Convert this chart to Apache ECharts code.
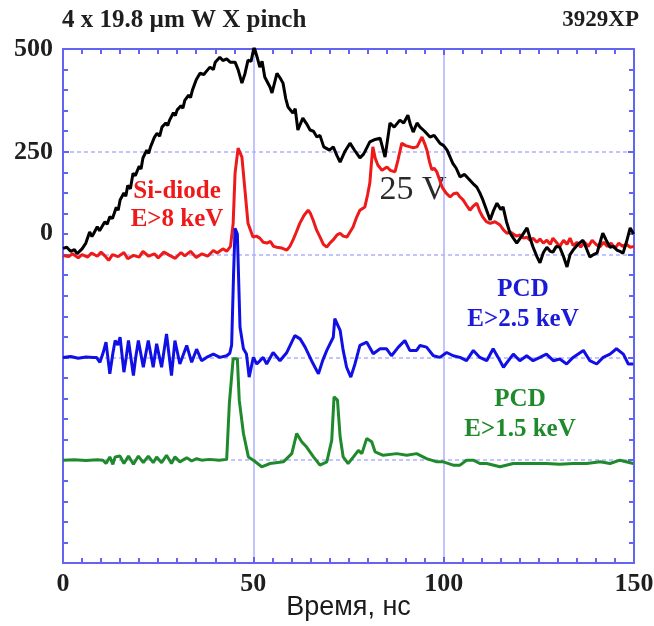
<!DOCTYPE html>
<html>
<head>
<meta charset="utf-8">
<script src="https://cdn.jsdelivr.net/npm/echarts@6/dist/echarts.min.js"></script>
<style>
  html, body { margin: 0; padding: 0; background: #fff; }
  #chart { width: 654px; height: 626px; }
</style>
</head>
<body>
<div id="chart"></div>
<script>
// Time axis (ns) and signal axis (arb. units); traces are stacked with baseline offsets.
const xLabelValues = [0, 50, 100, 150];
const yLabelValues = [500, 250, 0];

// Baseline offset of each stacked trace
const blackBaseline = 0;
const redBaseline = 0;
const blueBaseline = -250;
const greenBaseline = -500;

// Voltage trace, 25 V per division: [time ns, value]
const blackTrace = [
  [0,15],[1,18],[2,8],[3,12],[3.7,2],[5,14],[6,28],[7,55],[7.6,44],[8,50],[9,68],[9.6,58],[10,62],[11,80],[11.6,74],[12.3,92],[13,88],
  [14,115],[14.5,108],[15,133],[16,150],[16.5,142],[17,168],[17.7,160],[18.4,198],[19,192],[20,215],[20.5,208],[21,235],[22,254],[22.5,246],[23,262],[24,285],
  [24.7,295],[25.4,288],[26,310],[27,320],[27.5,314],[28,327],[29,345],[29.5,338],[30,352],[31,362],[31.5,356],[32,375],[33,388],[33.5,382],[34,400],[35,425],
  [36,441],[37,438],[37.6,445],[38.6,456],[39.5,450],[40,468],[41.2,480],[42,472],[43,476],[43.9,468],[45.2,468],
  [46,450],[47,417],[47.8,440],[48.6,473],[49.4,470],[50.2,505],[51,480],[51.7,456],[52.3,470],[53,432],
  [54.4,407],[54.9,393],[56.2,441],[57,430],[57.8,417],[58.5,380],[59.1,359],[60.4,344],[61,355],[61.7,303],
  [63,332],[64,318],[64.9,303],[65.8,300],[66.7,286],[67.5,290],[68.5,262],[70,254],[71,262],[72,240],
  [72.8,225],[74,250],[75.4,271],[76.5,255],[78,235],[79,245],[80.6,274],[82,280],[83.3,283],[84.6,237],
  [85.9,320],[87,310],[88.5,327],[89.5,320],[90.6,339],[91.3,315],[92,298],[93,320],[93.8,310],[95,300],
  [96.4,286],[97.5,290],[99,271],[100,265],[100.9,254],[102.4,222],[103.3,210],[104.3,189],[105.5,195],
  [106.9,181],[108,170],[108.7,164],[109.5,150],[110.3,133],[111,115],[112.2,84],[113,105],[114,125],
  [115,110],[115.6,116],[116.5,80],[117.4,53],[118.3,40],[119.2,28],[120.5,45],[121.9,65],[122.7,40],
  [123.5,18],[124.5,-5],[125.3,-20],[126.2,5],[127.1,18],[128,8],[128.7,6],[129.6,20],[130.5,18],
  [131.5,-5],[132.4,-30],[133.2,0],[134,11],[135.3,25],[136.6,35],[137.5,15],[138.4,-6],[139.4,0],
  [140.3,4],[141.1,30],[141.8,52],[142.7,35],[143.7,18],[144.6,20],[145.5,11],[146.3,8],[147.1,3],
  [148,30],[149,65],[149.9,50]
];

// Si-diode, E>8 keV
const redTrace = [
  [0,-2],[1.5,-5],[2.5,2],[4,-8],[5,0],[6.5,-6],[7.5,4],[9,-4],[10,6],[11,-3],[12,-14],[13,0],[14.5,-5],
  [16,5],[17,-10],[18.5,-2],[20,-6],[21,8],[22.5,-4],[24,2],[25,-8],[26.5,6],[28,-2],[29.5,-9],[31,5],
  [32,-3],[33.5,8],[35,-7],[36.5,2],[38,-4],[39.5,10],[40.5,4],[42,14],[43,8],[44,20],[44.7,76],
  [45.2,198],[46,259],[47,237],[47.8,157],[48.6,76],[49.9,43],[50.8,45],[51.7,40],[52.6,30],[53.6,28],
  [54.5,32],[55.3,20],[56.2,18],[57.5,16],[58.8,11],[59.6,20],[60.4,35],[61.3,55],[62.2,76],[63.3,95],
  [64.4,108],[65,100],[65.7,84],[66.6,60],[67.5,43],[68.4,25],[69.3,18],[70.1,28],[70.9,35],[72,48],
  [72.8,52],[73.6,45],[74.6,43],[75.4,55],[76.2,67],[77.1,90],[78,108],[79.3,116],[80,145],[80.6,174],
  [81,220],[81.4,262],[82,235],[82.7,218],[83.8,205],[85.1,213],[86,205],[87.2,201],[88,230],[89,271],
  [90,265],[91.2,262],[92,260],[93,262],[94.3,286],[95,270],[95.6,254],[96.3,225],[96.9,206],[97.5,210],
  [98.2,201],[99,180],[99.6,164],[100.6,150],[101.7,140],[102.6,148],[103.5,150],[104.3,140],[105.1,133],
  [106,120],[106.9,108],[107.8,118],[108.7,125],[109.5,105],[110.3,91],[111.2,80],[112.2,76],[113.5,80],
  [114.8,72],[115.7,60],[116.6,52],[117.5,55],[118.3,50],[119.2,45],[120,48],[121,40],[121.9,42],
  [122.7,35],[123.5,40],[124.5,30],[125.3,38],[126.2,28],[127.1,35],[128,25],[128.7,40],[129.6,30],
  [130.5,20],[131.5,35],[132.4,25],[133.2,40],[134,22],[135,30],[136,18],[137,30],[138,20],[139,35],
  [140,25],[141,18],[142,30],[143,20],[144,28],[145,15],[146,28],[147,20],[148,25],[149,18],[150,20]
];

// PCD, E>2.5 keV (relative to its baseline)
const blueTrace = [
  [0,0],[2,2],[4,-2],[6,1],[8,0],[8.8,0],[9.7,-12],[10.5,10],[11.3,37],[12.3,-40],[13.1,10],[13.7,41],
  [14.4,30],[15,49],[16,-36],[16.6,0],[17.2,41],[18.5,-44],[19.1,0],[19.8,41],[21.1,-24],[22.4,41],
  [23.7,-24],[24.6,33],[25.9,-24],[27.2,57],[28.5,-44],[29.4,41],[30.7,-16],[32.5,29],[33.8,-12],
  [35.1,20],[36.4,-8],[37.7,0],[39.5,8],[41.2,0],[43,4],[43.8,10],[44.3,30],[44.8,200],[45.2,314],
  [45.8,300],[46.5,74],[47.4,21],[48.2,8],[48.9,-48],[50,0],[50.9,-16],[52.6,0],[53.5,-16],[55.2,12],
  [57,-8],[58.8,12],[60.9,53],[62.3,45],[63.6,25],[65.3,-8],[67.1,-40],[68.2,-8],[69.3,17],[71,49],
  [71.4,94],[72.8,66],[73.6,17],[74.5,-24],[75.6,-48],[76.7,-16],[78,29],[79.8,37],[81.5,9],[83.3,21],
  [85,21],[86.3,4],[88.1,25],[89.8,41],[91.1,17],[92.9,17],[93.8,29],[95.5,25],[97.3,4],[99,0],
  [100.8,12],[102.5,4],[104.3,0],[106,-8],[107.8,17],[109.5,0],[111.3,-8],[113,21],[114.3,0],
  [115.7,-24],[117,-8],[118.3,8],[120,-8],[121.8,4],[123.5,-8],[125.3,0],[127,8],[128.8,-8],
  [130.5,-4],[132.3,-16],[134,0],[136.7,17],[138.4,-8],[140.2,-16],[141.9,0],[143.7,8],[145.4,21],
  [147.2,8],[148.5,-16],[149.8,-16]
];

// PCD, E>1.5 keV (relative to its baseline)
const greenTrace = [
  [0,0],[3,1],[6,-1],[9,1],[10.5,0],[11.3,-8],[12.3,8],[13.1,-10],[13.7,8],[15,10],[16,-8],[17.2,10],
  [18.5,-10],[19.8,10],[21.1,-6],[22.4,10],[23.7,-6],[24.6,8],[25.9,-6],[27.2,12],[28.5,-8],[29.4,8],
  [30.7,-4],[32.5,6],[33.8,-2],[35.1,4],[36.4,0],[38.5,2],[41,0],[43,2],[43.7,138],[44.7,247],[45.8,247],
  [46.3,146],[47.4,65],[48.7,8],[50,0],[52.2,-16],[54.4,-8],[57.9,-4],[60.1,16],[61.4,65],[62.7,45],
  [64,32],[65.8,8],[67.5,-12],[69.3,-4],[70.6,49],[71.2,154],[72.1,146],[72.8,57],[73.6,8],[74.9,-8],
  [76.3,8],[77.6,24],[78.5,16],[79.8,53],[81.1,45],[82,20],[84.1,12],[87.7,16],[90.3,12],[92.9,16],
  [95.5,4],[98.2,-4],[99.9,-4],[102.5,-12],[104.3,-12],[106,0],[107.8,0],[109.5,-8],[111.3,-8],
  [114.8,-16],[118.3,-8],[121.8,-8],[127,-8],[130.5,-10],[134,-8],[137.6,-8],[141.1,-4],[143.7,-8],
  [146.3,0],[149.8,-8]
];

const shift = (trace, base) => trace.map(p => [p[0], p[1] + base]);

const serif = '"Liberation Serif", "DejaVu Serif", serif';
const axisBlue = '#6464f4';
const gridBlue = '#aeb0ff';

const chart = echarts.init(document.getElementById('chart'), null, { renderer: 'canvas' });

const baseX = {
  type: 'value', min: 0, max: 150, interval: 50,
  axisLine: { show: true, onZero: false, lineStyle: { color: axisBlue, width: 2 } },
  axisTick: { show: true, inside: true, length: 6, lineStyle: { color: axisBlue, width: 2 } },
  minorTick: { show: true, splitNumber: 10, length: 5, lineStyle: { color: axisBlue, width: 2 } },
  minorSplitLine: { show: false }
};
const baseY = {
  type: 'value', min: -750, max: 500, interval: 250,
  axisLine: { show: true, onZero: false, lineStyle: { color: axisBlue, width: 2 } },
  axisTick: { show: true, inside: true, length: 6, lineStyle: { color: axisBlue, width: 2 } },
  minorTick: { show: true, splitNumber: 5, length: 5, lineStyle: { color: axisBlue, width: 2 } },
  minorSplitLine: { show: false }
};

const labelFont = { fontFamily: serif, fontWeight: 'bold', fontSize: 26, color: '#1e1e1e' };

const option = {
  animation: false,
  backgroundColor: '#ffffff',
  grid: { left: 63, top: 49, right: 20, bottom: 63, containLabel: false, outerBoundsMode: 'none' },
  xAxis: [
    Object.assign({}, baseX, {
      position: 'bottom',
      name: 'Время, нс', nameLocation: 'middle', nameGap: 31, nameMoveOverlap: false,
      nameTextStyle: { fontFamily: '"Liberation Sans", Arial, sans-serif', fontSize: 27, color: '#1a1a1a' },
      axisLabel: Object.assign({}, labelFont, {
        margin: 8,
        formatter: v => xLabelValues.includes(v) ? String(v) : ''
      }),
      splitLine: { show: true, lineStyle: { color: gridBlue, width: 1.5, type: 'solid' } }
    }),
    Object.assign({}, baseX, {
      position: 'top',
      axisLabel: { show: false },
      splitLine: { show: false }
    })
  ],
  yAxis: [
    Object.assign({}, baseY, {
      position: 'left',
      axisLabel: Object.assign({}, labelFont, {
        margin: 10,
        formatter: v => {
          if (!yLabelValues.includes(v)) return '';
          return v === 0 ? '{raised|0}' : String(v);
        },
        rich: { raised: { padding: [0, 0, 42, 0], fontFamily: serif, fontWeight: 'bold', fontSize: 26, color: '#1e1e1e' } }
      }),
      splitLine: { show: true, lineStyle: { color: gridBlue, width: 1.5, type: [4, 3] } }
    }),
    Object.assign({}, baseY, {
      position: 'right',
      axisLabel: { show: false },
      splitLine: { show: false }
    })
  ],
  series: [
    { name: 'Si-diode E>8 keV', type: 'line', data: shift(redTrace, redBaseline), showSymbol: false,
      lineStyle: { color: '#ee1a1a', width: 3 }, z: 3 },
    { name: '25 V', type: 'line', data: shift(blackTrace, blackBaseline), showSymbol: false,
      lineStyle: { color: '#000000', width: 3 }, z: 4 },
    { name: 'PCD E>2.5 keV', type: 'line', data: shift(blueTrace, blueBaseline), showSymbol: false,
      lineStyle: { color: '#1010e6', width: 3 }, z: 5 },
    { name: 'PCD E>1.5 keV', type: 'line', data: shift(greenTrace, greenBaseline), showSymbol: false,
      lineStyle: { color: '#1f8a2c', width: 3 }, z: 6 }
  ],
  graphic: [
    { type: 'text', left: 62, top: 8, style: { text: '4 x 19.8 µm W X pinch', font: 'bold 25px ' + serif, fill: '#1e1e1e' } },
    { type: 'text', right: 15, top: 9, style: { text: '3929XP', font: 'bold 23px ' + serif, fill: '#1e1e1e' } },
    { type: 'text', x: 177, y: 206, style: { text: 'Si-diode\nE>8 keV', font: 'bold 25px ' + serif, fill: '#ee1a1a', align: 'center', verticalAlign: 'middle', lineHeight: 28 } },
    { type: 'text', x: 413, y: 190, style: { text: '25 V', font: '34px ' + serif, fill: '#2a2a2a', align: 'center', verticalAlign: 'middle' } },
    { type: 'text', x: 523, y: 305, style: { text: 'PCD\nE>2.5 keV', font: 'bold 25px ' + serif, fill: '#1a1ad8', align: 'center', verticalAlign: 'middle', lineHeight: 30 } },
    { type: 'text', x: 520, y: 415, style: { text: 'PCD\nE>1.5 keV', font: 'bold 25px ' + serif, fill: '#1f8a2c', align: 'center', verticalAlign: 'middle', lineHeight: 30 } }
  ]
};

chart.setOption(option);
</script>
</body>
</html>
